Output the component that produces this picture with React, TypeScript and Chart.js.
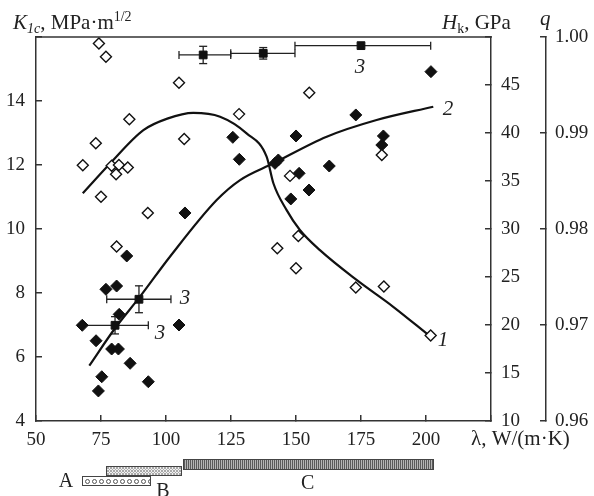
import React, { useEffect, useRef } from 'react';
import { Chart, registerables } from 'chart.js';

Chart.register(...registerables);

// ---- Data ----
// Series 1: open diamonds, K1c (left axis)
const openLambda = [74.2, 76.9, 105.0, 85.9, 128.1, 107.0, 73.0, 68.0, 79.1, 81.9, 85.3, 80.8, 75.0, 93.0, 81.0, 155.1, 183.0, 147.7, 150.9, 142.8, 150.0, 173.0, 183.8, 201.8];
const openK = [15.8, 15.38, 14.57, 13.43, 13.59, 12.81, 12.68, 11.99, 11.98, 12.0, 11.92, 11.71, 11.01, 10.5, 9.45, 14.26, 12.31, 11.66, 9.78, 9.4, 8.77, 8.17, 8.2, 6.67];

// Series 2: filled diamonds, Hk (right axis)
const filledLambda = [201.9, 173.0, 150.0, 183.6, 183.0, 125.7, 128.2, 141.9, 143.2, 151.2, 162.8, 155.0, 148.0, 107.3, 84.9, 81.0, 76.9, 82.0, 67.8, 105.0, 73.1, 79.1, 81.7, 86.2, 75.3, 93.2, 74.0];
const filledHk = [46.39, 41.88, 39.69, 39.69, 38.75, 39.55, 37.26, 36.84, 37.19, 35.8, 36.56, 34.06, 33.13, 31.67, 27.19, 24.06, 23.72, 21.11, 19.97, 20.0, 18.36, 17.5, 17.5, 16.01, 14.61, 14.09, 13.13];

// Series 3: filled squares with error bars, q (far right axis)
const sqLambda = [80.4, 89.6, 114.3, 137.4, 175.0];
const sqQ = [0.96997, 0.97268, 0.99813, 0.9983, 0.9991];
const sqLambdaLow = [67.2, 77.2, 105.0, 124.9, 149.6];
const sqLambdaHigh = [93.2, 101.9, 124.9, 149.6, 201.8];
const sqQErr = [0.0009, 0.0014, 0.0009, 0.0006, 0];

// Curve 1 (K1c units)
const curve1Lambda = [68.0, 78.5, 91.3, 100.5, 110.5, 120.8, 131.0, 138.7, 141.3, 146.4, 151.5, 159.2, 173.3, 187.4, 200.9];
const curve1K = [11.12, 12.05, 13.09, 13.45, 13.63, 13.51, 12.99, 12.26, 11.43, 10.59, 9.97, 9.34, 8.41, 7.57, 6.69];

// Curve 2 (Hk units)
const curve2Lambda = [70.5, 80.4, 90.0, 101.5, 119.5, 128.5, 141.3, 161.8, 181.0, 202.8];
const curve2Hk = [15.76, 19.66, 22.95, 27.11, 33.02, 35.1, 36.84, 39.61, 41.35, 42.74];

// Composition ranges under the axis
const rangeNames = ['A', 'B', 'C'];
const rangeStart = [67.8, 77.0, 106.5];
const rangeEnd = [93.8, 105.6, 202.5];

// Curve labels (placed in λ / K1c units)
const curveLabelText = ['1', '2', '3', '3', '3'];
const curveLabelLambda = [206.5, 208.5, 174.6, 107.3, 97.7];
const curveLabelK = [6.53, 13.75, 15.06, 7.84, 6.72];

const SERIF = '"Liberation Serif", "DejaVu Serif", serif';
const INK = '#111';
const AXIS = '#333';
const TEXT = '#222';

function makePattern(kind: string): CanvasPattern | string {
  const c = document.createElement('canvas');
  const g = c.getContext('2d');
  if (!g) return '#999';
  if (kind === 'A') {
    c.width = 7; c.height = 9;
    g.fillStyle = '#fff'; g.fillRect(0, 0, 7, 9);
    g.strokeStyle = '#555'; g.lineWidth = 1;
    g.beginPath(); g.arc(3.5, 4.5, 2, 0, Math.PI * 2); g.stroke();
  } else if (kind === 'B') {
    c.width = 3; c.height = 3;
    g.fillStyle = '#f0f0f0'; g.fillRect(0, 0, 3, 3);
    g.fillStyle = '#aaa';
    g.fillRect(0, 0, 1, 1); g.fillRect(2, 0, 1, 1); g.fillRect(1, 1, 1, 1); g.fillRect(0, 2, 1, 1); g.fillRect(2, 2, 1, 1);
  } else {
    c.width = 2; c.height = 2;
    g.fillStyle = '#b5b5b5'; g.fillRect(0, 0, 2, 2);
    g.fillStyle = '#5a5a5a'; g.fillRect(0, 0, 1, 2);
  }
  const p = g.createPattern(c, 'repeat');
  return p || '#999';
}

export default function App() {
  const ref = useRef<HTMLCanvasElement | null>(null);

  useEffect(() => {
    document.body.style.margin = '0';
    const canvas = ref.current;
    if (!canvas) return;

    const patterns = [makePattern('A'), makePattern('B'), makePattern('C')];
    const rangeTop = [476, 466, 459];
    const rangeH = [9, 9, 10];

    const line = (ctx: CanvasRenderingContext2D, x1: number, y1: number, x2: number, y2: number) => {
      ctx.beginPath(); ctx.moveTo(x1, y1); ctx.lineTo(x2, y2); ctx.stroke();
    };

    const rich = (ctx: CanvasRenderingContext2D, parts: { t: string; f: string; dy: number }[], x: number, y: number) => {
      let cx = x;
      for (const p of parts) {
        ctx.font = p.f;
        ctx.fillText(p.t, cx, y + p.dy);
        cx += ctx.measureText(p.t).width;
      }
    };

    const overlay = {
      id: 'overlay',
      beforeDatasetsDraw(chart: any) {
        const ctx: CanvasRenderingContext2D = chart.ctx;
        const xs = chart.scales.x;
        const qs = chart.scales.q;
        ctx.save();
        ctx.strokeStyle = '#222';
        ctx.lineWidth = 1.3;
        for (let i = 0; i < sqLambda.length; i++) {
          const y = qs.getPixelForValue(sqQ[i]);
          const x1 = xs.getPixelForValue(sqLambdaLow[i]);
          const x2 = xs.getPixelForValue(sqLambdaHigh[i]);
          line(ctx, x1, y, x2, y);
          line(ctx, x1, y - 4, x1, y + 4);
          line(ctx, x2, y - 4, x2, y + 4);
          if (sqQErr[i] > 0) {
            const x = xs.getPixelForValue(sqLambda[i]);
            const ya = qs.getPixelForValue(sqQ[i] - sqQErr[i]);
            const yb = qs.getPixelForValue(sqQ[i] + sqQErr[i]);
            line(ctx, x, ya, x, yb);
            line(ctx, x - 4, ya, x + 4, ya);
            line(ctx, x - 4, yb, x + 4, yb);
          }
        }
        ctx.restore();
      },
      afterDraw(chart: any) {
        const ctx: CanvasRenderingContext2D = chart.ctx;
        const area = chart.chartArea;
        const xs = chart.scales.x;
        const ys = chart.scales.y;
        ctx.save();
        // top border of the plot
        ctx.strokeStyle = AXIS;
        ctx.lineWidth = 1.5;
        line(ctx, area.left - 0.75, area.top, area.right + 0.75, area.top);

        ctx.fillStyle = TEXT;
        ctx.textBaseline = 'alphabetic';
        ctx.textAlign = 'left';
        // axis titles
        rich(ctx, [
          { t: 'K', f: `italic 21px ${SERIF}`, dy: 0 },
          { t: '1c', f: `italic 14px ${SERIF}`, dy: 4 },
          { t: ', MPa·m', f: `21px ${SERIF}`, dy: 0 },
          { t: '1/2', f: `14px ${SERIF}`, dy: -8 },
        ], 13, 29);
        rich(ctx, [
          { t: 'H', f: `italic 21px ${SERIF}`, dy: 0 },
          { t: 'k', f: `14px ${SERIF}`, dy: 4 },
          { t: ', GPa', f: `21px ${SERIF}`, dy: 0 },
        ], 442, 29);
        rich(ctx, [{ t: 'q', f: `italic 21px ${SERIF}`, dy: 0 }], 540, 25);
        rich(ctx, [{ t: 'λ, W/(m·K)', f: `21px ${SERIF}`, dy: 0 }], 471, 445);

        // curve labels
        ctx.textAlign = 'center';
        ctx.textBaseline = 'middle';
        ctx.font = `italic 21px ${SERIF}`;
        for (let i = 0; i < curveLabelText.length; i++) {
          ctx.fillText(curveLabelText[i], xs.getPixelForValue(curveLabelLambda[i]), ys.getPixelForValue(curveLabelK[i]));
        }

        // composition ranges
        ctx.strokeStyle = '#444';
        ctx.lineWidth = 1;
        for (let i = 0; i < rangeNames.length; i++) {
          const x1 = Math.round(xs.getPixelForValue(rangeStart[i])) + 0.5;
          const x2 = Math.round(xs.getPixelForValue(rangeEnd[i])) + 0.5;
          const y = rangeTop[i] + 0.5;
          ctx.fillStyle = patterns[i] as any;
          ctx.fillRect(x1, y, x2 - x1, rangeH[i]);
          ctx.strokeRect(x1, y, x2 - x1, rangeH[i]);
        }
        ctx.fillStyle = TEXT;
        ctx.font = `20px ${SERIF}`;
        ctx.textBaseline = 'middle';
        ctx.textAlign = 'center';
        ctx.fillText(rangeNames[0], 66, 482);
        ctx.fillText(rangeNames[1], 163, 492);
        ctx.fillText(rangeNames[2], (xs.getPixelForValue(rangeStart[2]) + xs.getPixelForValue(rangeEnd[2])) / 2, 484);
        ctx.restore();
      },
    };

    const tickFont = { family: SERIF, size: 19 };
    const gridOpts = { drawOnChartArea: false, drawTicks: true, tickLength: -6, color: AXIS, lineWidth: 1.5 };
    const borderOpts = { display: true, color: AXIS, width: 1.5 };

    const chart = new Chart(canvas, {
      type: 'scatter',
      data: {
        datasets: [
          {
            label: '3',
            data: sqLambda.map((x, i) => ({ x, y: sqQ[i] })),
            yAxisID: 'q',
            pointStyle: 'rect',
            pointRadius: 5.5,
            backgroundColor: INK,
            borderColor: INK,
            borderWidth: 1,
          },
          {
            label: '1',
            data: openLambda.map((x, i) => ({ x, y: openK[i] })),
            yAxisID: 'y',
            pointStyle: 'rectRot',
            pointRadius: 5.5,
            backgroundColor: '#fff',
            borderColor: INK,
            borderWidth: 1.4,
          },
          {
            label: '2',
            data: filledLambda.map((x, i) => ({ x, y: filledHk[i] })),
            yAxisID: 'hk',
            pointStyle: 'rectRot',
            pointRadius: 6,
            backgroundColor: INK,
            borderColor: INK,
            borderWidth: 1,
          },
          {
            label: 'curve 1',
            data: curve1Lambda.map((x, i) => ({ x, y: curve1K[i] })),
            yAxisID: 'y',
            showLine: true,
            pointRadius: 0,
            borderColor: INK,
            borderWidth: 2.2,
            cubicInterpolationMode: 'monotone',
          },
          {
            label: 'curve 2',
            data: curve2Lambda.map((x, i) => ({ x, y: curve2Hk[i] })),
            yAxisID: 'hk',
            showLine: true,
            pointRadius: 0,
            borderColor: INK,
            borderWidth: 2.2,
            cubicInterpolationMode: 'monotone',
          },
        ],
      },
      options: {
        animation: false,
        responsive: false,
        devicePixelRatio: 1,
        layout: { padding: { top: 37, left: 0, right: 0, bottom: 0 } },
        plugins: { legend: { display: false }, tooltip: { enabled: false } },
        scales: {
          x: {
            type: 'linear',
            position: 'bottom',
            min: 50,
            max: 225,
            afterFit: (s: any) => { s.height = 75; },
            grid: gridOpts,
            border: borderOpts,
            ticks: {
              stepSize: 25,
              autoSkip: false,
              maxRotation: 0,
              padding: 14,
              color: TEXT,
              font: tickFont,
              callback: (v: any) => (v > 200 ? '' : String(v)),
            },
          },
          y: {
            type: 'linear',
            position: 'left',
            min: 4,
            max: 16,
            afterFit: (s: any) => { s.width = 36; },
            grid: gridOpts,
            border: borderOpts,
            ticks: {
              stepSize: 2,
              padding: 17,
              color: TEXT,
              font: tickFont,
              callback: (v: any) => (v > 14 ? '' : String(v)),
            },
          },
          hk: {
            type: 'linear',
            position: 'right',
            weight: 0,
            min: 10,
            max: 50,
            afterFit: (s: any) => { s.width = 55; },
            grid: gridOpts,
            border: borderOpts,
            ticks: {
              stepSize: 5,
              padding: 16,
              color: TEXT,
              font: tickFont,
              callback: (v: any) => (v > 45 ? '' : String(v)),
            },
          },
          q: {
            type: 'linear',
            position: 'right',
            weight: 1,
            min: 0.96,
            max: 1.0,
            afterFit: (s: any) => { s.width = 48; },
            grid: gridOpts,
            border: borderOpts,
            ticks: {
              stepSize: 0.01,
              padding: 15,
              color: TEXT,
              font: tickFont,
              callback: (v: any) => Number(v).toFixed(2),
            },
          },
        },
      },
      plugins: [overlay],
    } as any);

    return () => chart.destroy();
  }, []);

  return (
    <div style={{ width: 594, height: 496 }}>
      <canvas ref={ref} width={594} height={496} style={{ display: 'block' }} />
    </div>
  );
}
